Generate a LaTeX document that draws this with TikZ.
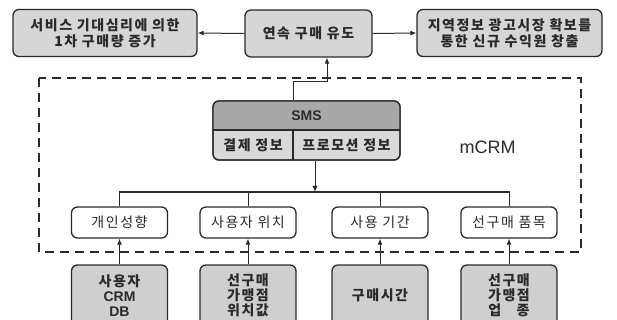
\documentclass[tikz,border=0pt]{standalone}
\usepackage{fontspec}
\setmainfont{Noto Sans CJK KR}[LetterSpace=11]
\newfontfamily\lat{Liberation Sans}
\usetikzlibrary{arrows.meta}
\definecolor{ink}{HTML}{2A2A2A}
\definecolor{topfill}{HTML}{D6D6D6}
\definecolor{hdrfill}{HTML}{A8A8A8}
\definecolor{rowfill}{HTML}{D9D9D9}
\definecolor{botfill}{HTML}{CFCFCF}
\tikzset{
  box/.style={draw=ink, line width=1.3pt, rounded corners=6pt, align=center, inner sep=0pt, text=ink},
  topbox/.style={box, fill=topfill, minimum height=47pt, font=\fontsize{14}{16}\selectfont\bfseries},
  midbox/.style={box, fill=white, minimum width=96pt, minimum height=31pt, font=\fontsize{14}{16}\selectfont},
  botbox/.style={box, fill=botfill, minimum width=96pt, minimum height=61pt, font=\fontsize{14}{15}\selectfont\bfseries},
  conn/.style={draw=ink, line width=1pt},
  arr/.style={conn, -{Latex[length=6pt,width=5pt]}},
  lbl/.style={text=ink, inner sep=0pt, align=center}
}
\begin{document}
\begin{tikzpicture}[x=1pt,y=-1pt]
\useasboundingbox (0,0) rectangle (617,320);
\clip (0,0) rectangle (617,320);
% top row
\node[topbox, minimum width=184pt] (L) at (105,33) {서비스 기대심리에 의한\\1차 구매량 증가};
\node[topbox, minimum width=127pt] (C) at (308.5,33.5) {연속 구매 유도};
\node[topbox, minimum width=185pt] (R) at (509.5,33) {지역정보 광고시장 확보를\\통한 신규 수익원 창출};
% dashed mCRM frame
\draw[ink, line width=2.2pt, dash pattern=on 9pt off 6pt] (39,78) rectangle (581,252);
\node[lbl, font=\lat\fontsize{18}{20}\selectfont] (mcrm) at (487.5,147) {mCRM};
% SMS block
\node[box, fill=rowfill, minimum width=187pt, minimum height=59pt] (sms) at (306.5,130.5) {};
\begin{scope}
  \clip[rounded corners=6pt] (213,101) rectangle (400,160);
  \fill[hdrfill] (213,101) rectangle (400,130);
\end{scope}
\draw[ink, line width=1.3pt, rounded corners=6pt] (213,101) rectangle (400,160);
\draw[ink, line width=1.1pt] (213,130) -- (400,130);
\draw[ink, line width=1.1pt] (293,130) -- (293,160);
\node[lbl, font=\lat\fontsize{14}{16}\selectfont\bfseries] (smsT) at (306.5,115.5) {SMS};
\node[lbl, font=\fontsize{14}{16}\selectfont\bfseries] (pay) at (253,145) {결제 정보};
\node[lbl, font=\fontsize{14}{16}\selectfont\bfseries] (promo) at (346.5,145) {프로모션 정보};
% middle row
\node[midbox] (p1) at (119.5,222.5) {개인성향};
\node[midbox] (p2) at (248,222.5) {사용자 위치};
\node[midbox] (p3) at (380,222.5) {사용 기간};
\node[midbox] (p4) at (509,222.5) {선구매 품목};
% bottom row
\node[botbox] (q1) at (119.5,295.5) {사용자\\{\lat CRM}\\{\lat DB}};
\node[botbox] (q2) at (248,295.5) {선구매\\가맹점\\위치값};
\node[botbox] (q3) at (380,295.5) {구매시간};
\node[botbox] (q4) at (509,295.5) {선구매\\가맹점\\업\hspace{1.1em}종};
% connectors
\draw[arr] (C.west) -- (L.east);
\draw[arr] (C.east) -- (R.west);
\coordinate (e1) at (293,82);
\coordinate (e2) at (327,82);
\draw[arr] (sms.north -| e1) -- (e1) -- (e2) -- (e2 |- C.south);
\coordinate (bus) at (315,192);
\draw[arr] (sms.south -| bus) -- (bus);
\draw[conn] (p1.north) -- (p1.north |- bus) -- (p4.north |- bus) -- (p4.north);
\draw[conn] (p2.north) -- (p2.north |- bus);
\draw[conn] (p3.north) -- (p3.north |- bus);
\draw[arr] (q1.north) -- (p1.south);
\draw[arr] (q2.north) -- (p2.south);
\draw[arr] (q3.north) -- (p3.south);
\draw[arr] (q4.north) -- (p4.south);
\end{tikzpicture}
\end{document}
